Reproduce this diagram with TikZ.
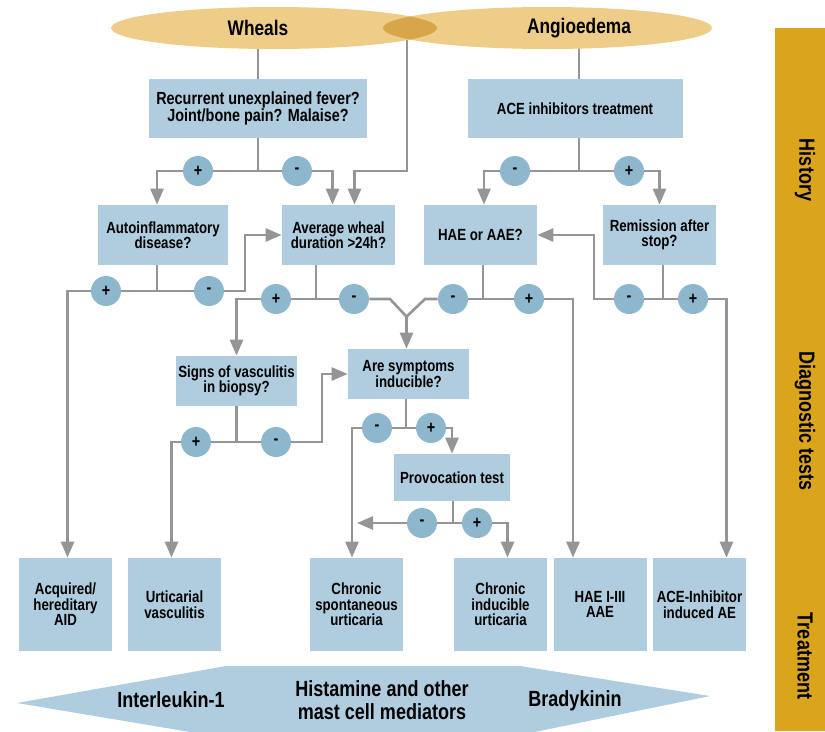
\documentclass[tikz,border=0pt]{standalone}
\usepackage{fontspec}
\setmainfont{Liberation Sans}[FakeStretch=0.82]
\usepackage{tikz}
\usetikzlibrary{arrows.meta,calc,backgrounds}
\definecolor{boxblue}{HTML}{AFCDDE}
\definecolor{dotblue}{HTML}{8DB7CC}
\definecolor{linegray}{HTML}{939598}
\definecolor{wheat}{HTML}{EDCD88}
\definecolor{lensgold}{HTML}{D9A54A}
\definecolor{bargold}{HTML}{DBA51B}
\tikzset{x=0.02cm, y=-0.02cm,  % one unit is one pixel of the layout, y runs downwards
         box/.style 2 args={   % light blue question / outcome boxes
           fill=boxblue, align=center, inner sep=0pt,
           minimum width=#1*0.02cm, minimum height=#2*0.02cm,
           font=\fontsize{9.2}{8.8}\selectfont\bfseries},
         sign/.style={         % round + / - markers on the branches
           circle, fill=dotblue, minimum size=0.6cm, inner sep=0pt,
           font=\fontsize{10}{10}\selectfont\bfseries},
         line/.style={draw=linegray, line width=1.5pt},
         arr/.style={line, -{Triangle[width=0.26cm,length=0.32cm]}},
         title/.style={font=\fontsize{12}{12}\selectfont\bfseries},
         big/.style={align=center, font=\fontsize{12.5}{13}\selectfont\bfseries},
         side/.style={rotate=-90, font=\fontsize{12.5}{12.5}\selectfont\bfseries}}
\begin{document}
\begin{tikzpicture}
\useasboundingbox (0,0) rectangle (825,731);

\fill[bargold] (775,28) rectangle (825,731);
\node[side] (histy) at (805,170) {History};
\node[side] (diag) at (805,421) {Diagnostic tests};
\node[side] (treat) at (805,656) {Treatment};

\fill[wheat] (274,28) ellipse [x radius=3.26cm, y radius=0.42cm];
\fill[wheat] (547.5,28) ellipse [x radius=3.29cm, y radius=0.42cm];
\begin{scope}
\clip (274,28) ellipse [x radius=3.26cm, y radius=0.42cm];
\fill[lensgold] (547.5,28) ellipse [x radius=3.29cm, y radius=0.42cm];
\end{scope}
\node[title] (wheals) at (258,28) {Wheals};
\node[title] (angio) at (579,28) {Angioedema};
\coordinate (lens) at (407,28);

\node[box={218}{59}, font=\fontsize{10}{9.6}\selectfont\bfseries] (rec) at (258,108.5) {Recurrent unexplained fever?\\Joint/bone pain? Malaise?};
\node[box={215}{59}] (ace) at (575,108.5) {ACE inhibitors treatment};
\node[box={130}{60}] (auto) at (163,235) {Autoinflammatory\\disease?};
\node[box={113}{60}] (avg) at (338.5,235) {Average wheal\\duration >24h?};
\node[box={113}{60}] (hae) at (480.5,235) {HAE or AAE?};
\node[box={113}{60}] (rem) at (659.5,235) {Remission after\\stop?};
\node[box={121}{50}] (signs) at (236.5,381) {Signs of vasculitis\\in biopsy?};
\node[box={121}{50}] (sym) at (408.5,374) {Are symptoms\\inducible?};
\node[box={116}{47}] (prov) at (452,477.5) {Provocation test};

\node[box={93}{93}] (aid) at (65.5,604.5) {Acquired/\\hereditary\\AID};
\node[box={93}{93}] (uv) at (174.5,604.5) {Urticarial\\vasculitis};
\node[box={93}{93}] (csu) at (356.5,604.5) {Chronic\\spontaneous\\urticaria};
\node[box={93}{93}] (ciu) at (500.5,604.5) {Chronic\\inducible\\urticaria};
\node[box={93}{93}] (haeaae) at (600,604.5) {HAE I-III\\AAE};
\node[box={93}{93}] (aceae) at (699.5,604.5) {ACE-Inhibitor\\induced AE};

\node[sign] (rp) at (198,171) {+};
\node[sign] (rm) at (297,171) {-};
\node[sign] (am) at (515,171) {-};
\node[sign] (ap) at (629,171) {+};
\node[sign] (fp) at (106,291) {+};
\node[sign] (fm) at (209,291) {-};
\node[sign] (dp) at (276,299) {+};
\node[sign] (dm) at (354,299) {-};
\node[sign] (hm) at (453,299) {-};
\node[sign] (hp) at (529,299) {+};
\node[sign] (sm) at (629,299) {-};
\node[sign] (sp) at (693,299) {+};
\node[sign] (vp) at (196,442) {+};
\node[sign] (vm) at (276,442) {-};
\node[sign] (im) at (377,428) {-};
\node[sign] (ip) at (431,428) {+};
\node[sign] (tm) at (422,523) {-};
\node[sign] (tp) at (477,523) {+};

\fill[boxblue] (17,703) -- (226,666) -- (520,666) -- (710,696) -- (520,735) -- (226,738) -- cycle;
\node[big] (il) at (171,700) {Interleukin-1};
\node[big] (mast) at (382,700) {Histamine and other\\mast cell mediators};
\node[big] (brady) at (575,701) {Bradykinin};

\coordinate (avgin) at ($(avg.north)+(16,0)$);
\coordinate (autoout) at ($(auto.south)+(-6,0)$);
\coordinate (avgout) at ($(avg.south)+(-22.5,0)$);
\coordinate (haeout) at ($(hae.south)+(2.5,0)$);
\coordinate (remout) at ($(rem.south)+(3.5,0)$);
\coordinate (symout) at ($(sym.south)+(-2.5,0)$);
\coordinate (provout) at ($(prov.south)+(1,0)$);
\coordinate (merge) at ($(sym.north)+(-2,-32)$);
\coordinate (provleft) at ($(tm)+(-65,0)$);

\begin{scope}[on background layer]
\draw[line] (wheals) -- (wheals |- rec.north);
\draw[line] (angio) -- (angio |- ace.north);
\draw[arr] (lens) |- (avgin |- rm) -- (avgin);

\draw[line] (rec.south) -- (rec.south |- rp);
\draw[line] (rp) -- (rm);
\draw[arr] (rp) -| ($(auto.north)+(-6,0)$);
\draw[arr] (rm) -| ($(avg.north)+(-6,0)$);

\draw[line] (angio |- ace.south) -- (angio |- am);
\draw[line] (am) -- (ap);
\draw[arr] (am) -| ($(hae.north)+(3.5,0)$);
\draw[arr] (ap) -| (rem.north);

\draw[line] (autoout) -- (autoout |- fp);
\draw[line] (fp) -- (fm);
\draw[arr] (fp) -| ($(aid.north)+(2,0)$);
\draw[arr] (fm) -- ++(36,0) |- (avg.west);

\draw[line] (avgout) -- (avgout |- dp);
\draw[line] (dp) -- (dm);
\draw[arr] (dp) -| (signs.north);
\draw[line] (dm) -- ++(36,0) -- (merge);

\draw[line] (haeout) -- (haeout |- hm);
\draw[line] (hm) -- (hp);
\draw[line] (hm) -- ++(-28,0) -- (merge);
\draw[arr] (merge) -- (merge |- sym.north);
\draw[arr] (hp) -| ($(haeaae.north)+(-27,0)$);

\draw[line] (remout) -- (remout |- sm);
\draw[line] (sm) -- (sp);
\draw[arr] (sm) -- ++(-35,0) |- (hae.east);
\draw[arr] (sp) -| ($(aceae.north)+(27,0)$);

\draw[line] (signs.south) -- (signs.south |- vp);
\draw[line] (vp) -- (vm);
\draw[arr] (vp) -| ($(uv.north)+(-3,0)$);
\draw[arr] (vm) -- ++(46,0) |- (sym.west);

\draw[line] (symout) -- (symout |- im);
\draw[line] (im) -- (ip);
\draw[arr] (im) -| ($(csu.north)+(-4.5,0)$);
\draw[arr] (ip) -| (prov.north);

\draw[line] (provout) -- (provout |- tm);
\draw[line] (tm) -- (tp);
\draw[arr] (tm) -- (provleft);
\draw[arr] (tp) -| ($(ciu.north)+(7,0)$);
\end{scope}
\end{tikzpicture}
\end{document}
